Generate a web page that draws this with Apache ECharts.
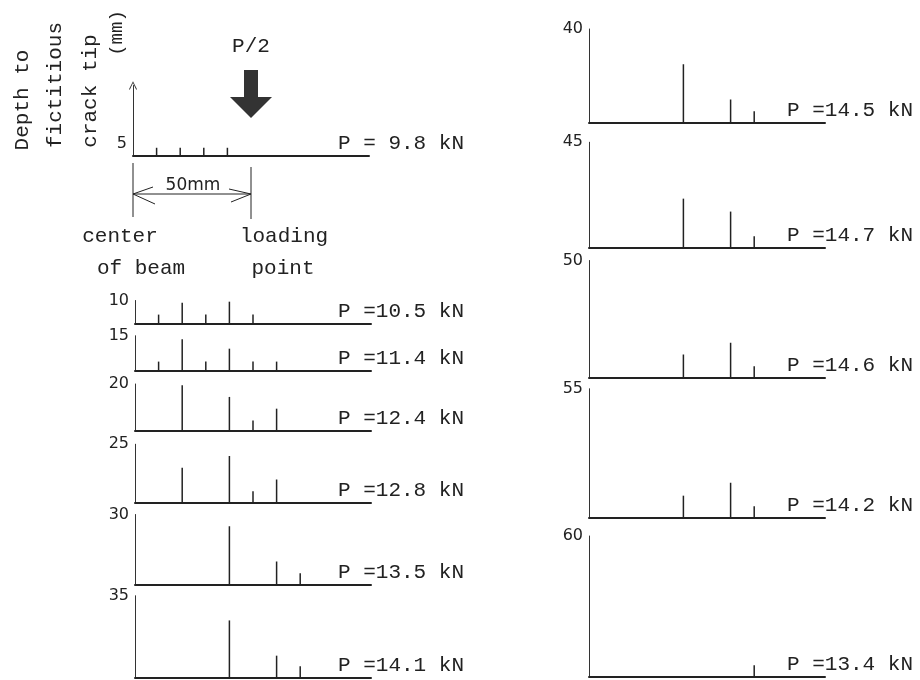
<!DOCTYPE html>
<html>
<head>
<meta charset="utf-8">
<script src="https://cdn.jsdelivr.net/npm/echarts@6/dist/echarts.min.js"></script>
<style>
  html, body { margin: 0; padding: 0; background: #fff; }
  #main { width: 920px; height: 680px; }
</style>
</head>
<body>
<div id="main"></div>
<script>
// depth to fictitious crack tip (mm) for each load stage
var depths = [5, 10, 15, 20, 25, 30, 35, 40, 45, 50, 55, 60];
// load P (kN) for each stage
var loads = ['9.8', '10.5', '11.4', '12.4', '12.8', '13.5', '14.1', '14.5', '14.7', '14.6', '14.2', '13.4'];
// cracks: [distance from center of beam (mm), crack height (mm)]
var crack5  = [[10, 3.5], [20, 3.5], [30, 3.5], [40, 3.5]];
var crack10 = [[10, 4], [20, 9], [30, 4], [40, 9.5], [50, 4]];
var crack15 = [[10, 4], [20, 13.5], [30, 4], [40, 9.5], [50, 4], [60, 4]];
var crack20 = [[20, 19.5], [40, 14.5], [50, 4.5], [60, 9.5]];
var crack25 = [[20, 15], [40, 20], [50, 5], [60, 10]];
var crack30 = [[40, 25], [60, 10], [70, 5]];
var crack35 = [[40, 24.5], [60, 9.5], [70, 5]];
var crack40 = [[40, 25], [60, 10], [70, 5]];
var crack45 = [[40, 21], [60, 15.5], [70, 5]];
var crack50 = [[40, 10], [60, 15], [70, 5]];
var crack55 = [[40, 9.5], [60, 15], [70, 5]];
var crack60 = [[70, 5]];
var cracks = [crack5, crack10, crack15, crack20, crack25, crack30, crack35,
              crack40, crack45, crack50, crack55, crack60];

// layout (px)
var pxPerMm = 2.35;
var beamWidth = 236;      // 100 mm of beam
var panelLeft = [133, 135, 135, 135, 135, 135, 135, 589, 589, 589, 589, 589];
var panelBase = [156, 324, 371, 431, 503, 585, 678, 123, 248, 378, 518, 677];
var textRight = [456, 456, 456, 456, 456, 456, 456, 7, 7, 7, 7, 7];

var ink = '#222';
var mono = 'Liberation Mono';

var grids = [], xAxes = [], yAxes = [], series = [], titles = [];
depths.forEach(function (d, i) {
    var first = i === 0;
    var ymax = first ? 30 : d;
    var h = ymax * pxPerMm;
    grids.push({
        left: panelLeft[i], top: panelBase[i] - h, width: beamWidth, height: h,
        outerBoundsMode: 'none'
    });
    xAxes.push({
        type: 'value', gridIndex: i, min: 0, max: 100,
        axisLine: { lineStyle: { color: ink, width: 2 } },
        axisTick: { show: false }, axisLabel: { show: false }, splitLine: { show: false }
    });
    yAxes.push({
        type: 'value', gridIndex: i, min: 0, max: ymax, interval: first ? 5 : d,
        axisLine: {
            show: true,
            lineStyle: { color: '#333', width: 1 },
            symbol: first ? ['none', 'path://M0,10 L5,0 L10,10 L9,10.5 L5,2.2 L1,10.5 Z'] : 'none',
            symbolSize: [8, 11]
        },
        axisTick: { show: false },
        splitLine: { show: false },
        axisLabel: {
            margin: 6, fontFamily: 'DejaVu Sans', fontSize: 16, color: ink,
            formatter: function (v) { return v === d ? String(d) : ''; }
        }
    });
    series.push({
        type: 'bar', xAxisIndex: i, yAxisIndex: i, data: cracks[i],
        barWidth: 1.5, itemStyle: { color: ink }, silent: true
    });
    titles.push({
        text: 'P =' + ('    ' + loads[i]).slice(-4) + ' kN',
        right: textRight[i], top: panelBase[i] - 23, padding: 0,
        textStyle: { fontFamily: mono, fontSize: 21, fontWeight: 'normal', color: ink }
    });
});

var myChart = echarts.init(document.getElementById('main'));
myChart.setOption({
    animation: false,
    backgroundColor: '#fff',
    title: titles,
    grid: grids,
    xAxis: xAxes,
    yAxis: yAxes,
    series: series
});

// annotations of the first panel
var p0 = myChart.convertToPixel({ gridIndex: 0 }, [0, 0]);
var p50 = myChart.convertToPixel({ gridIndex: 0 }, [50, 0]);
var xc = p0[0], xl = p50[0];

function txt(x, y, s, size, font, rot) {
    return {
        type: 'text', x: x, y: y, rotation: rot || 0, silent: true,
        style: { text: s, fontFamily: font || mono, fontSize: size || 21, fill: ink,
                 align: 'center', verticalAlign: 'middle' }
    };
}
function seg(pts, w) {
    return { type: 'polyline', silent: true, shape: { points: pts },
             style: { stroke: ink, lineWidth: w || 1, fill: null } };
}

myChart.setOption({
    graphic: [
        txt(22, 100, 'Depth to', 21, mono, Math.PI / 2),
        txt(55, 85, 'fictitious', 21, mono, Math.PI / 2),
        txt(90, 91, 'crack tip', 21, mono, Math.PI / 2),
        txt(117, 33, '(mm)', 19, mono, Math.PI / 2),
        txt(xl, 46, 'P/2'),
        {
            type: 'polygon', silent: true,
            shape: { points: [[xl - 7, 70], [xl + 7, 70], [xl + 7, 97], [xl + 21, 97],
                              [xl, 118], [xl - 21, 97], [xl - 7, 97]] },
            style: { fill: '#333' }
        },
        seg([[xc, 163], [xc, 217]]),
        seg([[xl, 167], [xl, 219]]),
        seg([[xc, 194], [xl, 194]]),
        seg([[xc + 20, 187], [xc, 194], [xc + 22, 204]]),
        seg([[xl - 22, 189], [xl, 194], [xl - 20, 202]]),
        txt((xc + xl) / 2 + 1, 186, '50mm', 17, 'DejaVu Sans'),
        txt(120, 236, 'center'),
        txt(141, 268, 'of beam'),
        txt(xl + 33, 236, 'loading'),
        txt(xl + 32, 268, 'point')
    ]
});
</script>
</body>
</html>
